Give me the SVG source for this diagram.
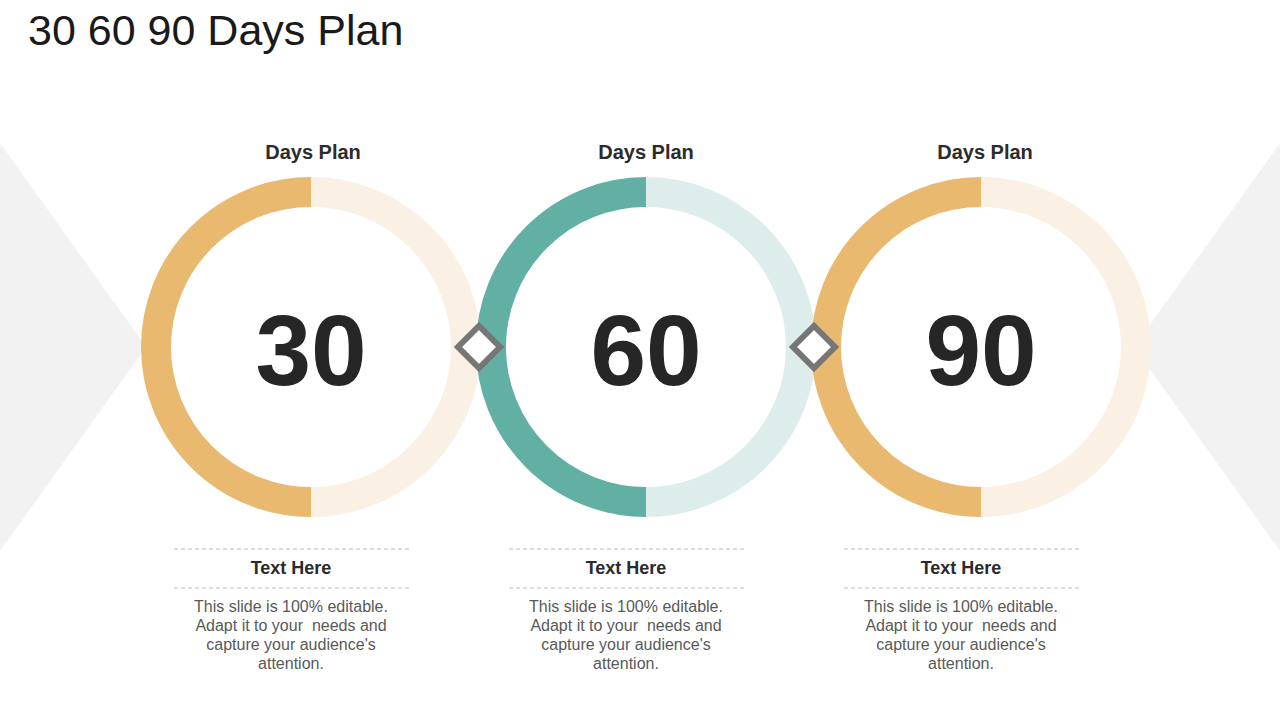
<svg xmlns="http://www.w3.org/2000/svg" width="1280" height="720" viewBox="0 0 1280 720">
<style>
.title{font-family:"Liberation Sans",Arial,sans-serif;font-size:43px;fill:#1a1a1a}
.head{font-family:"Liberation Sans",Arial,sans-serif;font-size:20px;font-weight:bold;fill:#2b2b2b;text-anchor:middle}
.num{font-family:"Liberation Sans",Arial,sans-serif;font-size:100px;font-weight:bold;fill:#262626;text-anchor:middle}
.sub{font-family:"Liberation Sans",Arial,sans-serif;font-size:18px;font-weight:bold;fill:#2b2b2b;text-anchor:middle}
.body{font-family:"Liberation Sans",Arial,sans-serif;font-size:16px;fill:#595959;text-anchor:middle}
.dash{stroke:#bdbdbd;stroke-width:1;stroke-dasharray:4 3;fill:none}
.ring{fill:none;stroke-width:30}
.dia{fill:#ffffff;stroke:#767676;stroke-width:6}
</style>
<rect width="1280" height="720" fill="#ffffff"/>
<g id="background">
<polygon points="0,143 146,347 0,551" fill="#f2f2f2"/>
<polygon points="1280,143 1134,347 1280,551" fill="#f2f2f2"/>
</g>
<text class="title" x="28" y="45">30 60 90 Days Plan</text>
<g id="node-30">
<circle cx="311" cy="347" r="155" fill="#ffffff"/>
<path class="ring" d="M311 192 A155 155 0 0 0 311 502" stroke="#e8b96e"/>
<path class="ring" d="M311 192 A155 155 0 0 1 311 502" stroke="#faf0e3"/>
<text class="head" x="313" y="159">Days Plan</text>
<text class="num" x="311" y="385">30</text>
<line class="dash" x1="174" y1="549" x2="410" y2="549"/>
<text class="sub" x="291" y="574">Text Here</text>
<line class="dash" x1="174" y1="588" x2="410" y2="588"/>
<text class="body" x="291" y="612">This slide is 100% editable.</text>
<text class="body" x="291" y="631">Adapt it to your&#160; needs and</text>
<text class="body" x="291" y="650">capture your audience's</text>
<text class="body" x="291" y="669">attention.</text>
</g>
<g id="node-60">
<circle cx="646" cy="347" r="155" fill="#ffffff"/>
<path class="ring" d="M646 192 A155 155 0 0 0 646 502" stroke="#62afa3"/>
<path class="ring" d="M646 192 A155 155 0 0 1 646 502" stroke="#ddedeb"/>
<text class="head" x="646" y="159">Days Plan</text>
<text class="num" x="646" y="385">60</text>
<line class="dash" x1="509" y1="549" x2="745" y2="549"/>
<text class="sub" x="626" y="574">Text Here</text>
<line class="dash" x1="509" y1="588" x2="745" y2="588"/>
<text class="body" x="626" y="612">This slide is 100% editable.</text>
<text class="body" x="626" y="631">Adapt it to your&#160; needs and</text>
<text class="body" x="626" y="650">capture your audience's</text>
<text class="body" x="626" y="669">attention.</text>
</g>
<g id="node-90">
<circle cx="981" cy="347" r="155" fill="#ffffff"/>
<path class="ring" d="M981 192 A155 155 0 0 0 981 502" stroke="#e8b96e"/>
<path class="ring" d="M981 192 A155 155 0 0 1 981 502" stroke="#faf0e3"/>
<text class="head" x="985" y="159">Days Plan</text>
<text class="num" x="981" y="385">90</text>
<line class="dash" x1="844" y1="549" x2="1080" y2="549"/>
<text class="sub" x="961" y="574">Text Here</text>
<line class="dash" x1="844" y1="588" x2="1080" y2="588"/>
<text class="body" x="961" y="612">This slide is 100% editable.</text>
<text class="body" x="961" y="631">Adapt it to your&#160; needs and</text>
<text class="body" x="961" y="650">capture your audience's</text>
<text class="body" x="961" y="669">attention.</text>
</g>
<g id="connectors">
<polygon class="dia" points="479,326 500,347 479,368 458,347"/>
<polygon class="dia" points="814,326 835,347 814,368 793,347"/>
</g>
</svg>
